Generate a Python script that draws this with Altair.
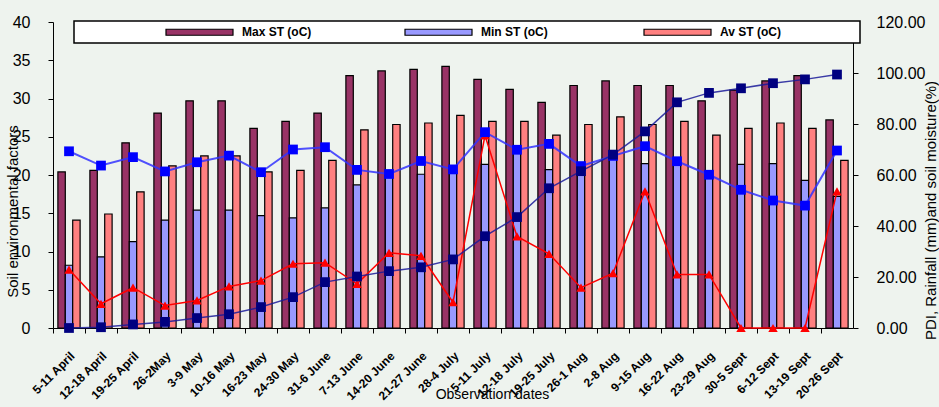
import altair as alt
import pandas as pd

# Observation weeks
dates = ["5-11 April", "12-18 April", "19-25 April", "26-2May", "3-9 May",
         "10-16 May", "16-23 May", "24-30 May", "31-6 June", "7-13 June",
         "14-20 June", "21-27 June", "28-4 July", "5-11 July", "12-18 July",
         "19-25 July", "26-1 Aug", "2-8 Aug", "9-15 Aug", "16-22 Aug",
         "23-29 Aug", "30-5 Sept", "6-12 Sept", "13-19 Sept", "20-26 Sept"]

# Soil temperatures (oC), left axis
max_st = [20.4, 20.6, 24.2, 28.1, 29.7, 29.7, 26.1, 27.0, 28.1, 33.0,
          33.6, 33.8, 34.2, 32.5, 31.2, 29.5, 31.7, 32.3, 31.7, 31.7,
          29.7, 31.1, 32.3, 33.0, 27.2]
min_st = [8.2, 9.3, 11.3, 14.1, 15.4, 15.4, 14.7, 14.4, 15.7, 18.7,
          20.0, 20.1, 21.0, 21.4, 23.0, 20.7, 20.8, 22.5, 21.5, 21.5,
          20.0, 21.4, 21.5, 19.3, 17.2]
av_st = [14.1, 14.9, 17.8, 21.2, 22.5, 22.5, 20.4, 20.6, 21.9, 25.9,
         26.6, 26.8, 27.8, 27.0, 27.0, 25.2, 26.6, 27.6, 26.6, 27.0,
         25.2, 26.1, 26.8, 26.1, 21.9]

# PDI, rainfall (mm) and soil moisture (%), right axis
pdi = [0.0, 0.3, 1.4, 2.4, 3.9, 5.4, 8.2, 12.1, 18.0, 20.2,
       22.3, 23.8, 26.9, 36.0, 43.5, 54.8, 61.5, 68.0, 77.1, 88.5,
       92.2, 94.0, 96.0, 97.5, 99.4]
rainfall = [22.9, 9.5, 15.8, 8.8, 10.8, 16.3, 18.6, 25.2, 25.6, 17.3,
            29.5, 28.3, 10.1, 75.5, 35.9, 29.1, 15.8, 21.5, 53.6, 21.0,
            21.0, 0.0, 0.0, 0.0, 53.6]
soil_moisture = [69.3, 63.7, 67.0, 61.4, 65.0, 67.6, 61.1, 70.0, 70.9, 62.0,
                 60.4, 65.5, 62.2, 76.8, 69.9, 72.2, 63.5, 67.5, 71.3, 65.4,
                 60.1, 54.2, 50.0, 48.0, 69.6]

series_names = ["Max ST (oC)", "Min ST (oC)", "Av ST (oC)"]
series_colors = ["#993366", "#9999FF", "#FF8080"]

FONT = "Liberation Sans"

bars_df = pd.DataFrame({
    "date": dates * 3,
    "series": [series_names[0]] * len(dates) + [series_names[1]] * len(dates)
              + [series_names[2]] * len(dates),
    "value": max_st + min_st + av_st,
})
lines_df = pd.DataFrame({
    "date": dates,
    "pdi": pdi,
    "rainfall": rainfall,
    "moisture": soil_moisture,
})

x_enc = alt.X(
    "date:N", sort=dates,
    scale=alt.Scale(paddingInner=0, paddingOuter=0),
    axis=alt.Axis(
        title="Observation dates", titleFontSize=14, titleFontWeight="normal",
        titleX=439, titleY=66, titleBaseline="middle", titleColor="black",
        labelAngle=315, labelFontWeight="bold", labelFontSize=12,
        labelColor="black", labelPadding=17, labelLimit=200,
        bandPosition=0, tickSize=5, tickColor="black", domainColor="black",
        grid=False,
    ),
)

# legend frame across the top of the plot
frame = alt.Chart(pd.DataFrame({"frame": [0]})).mark_rect(
    fill="white", stroke="black", strokeWidth=1.5
).encode(x=alt.value(21), x2=alt.value(807), y=alt.value(-1), y2=alt.value(21))

bars = alt.Chart(bars_df).mark_bar(stroke="black", strokeWidth=1.2).encode(
    x=x_enc,
    xOffset=alt.XOffset("series:N", sort=series_names,
                        scale=alt.Scale(domain=series_names, paddingOuter=0.66,
                                        paddingInner=0)),
    y=alt.Y("value:Q", scale=alt.Scale(domain=[0, 40]),
            axis=alt.Axis(
                values=list(range(0, 41, 5)), title="Soil environmental factors",
                titleFontSize=15, titleFontWeight="normal", titleColor="black",
                titleX=-33, titleY=189, titleAngle=270,
                labelFontSize=16, labelColor="black", labelPadding=18,
                tickSize=5, tickColor="black", domainColor="black", grid=False,
            )),
    color=alt.Color(
        "series:N", sort=series_names,
        scale=alt.Scale(domain=series_names, range=series_colors),
        legend=alt.Legend(
            title=None, orient="none", direction="horizontal", columns=3,
            legendX=112, legendY=-24.5, padding=0,
            symbolType="M-1,-0.09L1,-0.09L1,0.09L-1,0.09Z", symbolSize=4489,
            symbolStrokeColor="black", symbolStrokeWidth=1.2,
            labelFontSize=12, labelFontWeight="bold", labelColor="black",
            labelOffset=8, columnPadding=90, gridAlign="all",
        ),
    ),
)

right_axis = alt.Axis(
    orient="right", values=list(range(0, 121, 20)), format=".2f",
    title="PDI, Rainfall (mm)and soil moisture(%)", titleFontSize=15,
    titleFontWeight="normal", titleColor="black", titleAngle=270,
    titleX=77, titleY=188, titleBaseline="middle", titleAlign="center",
    labelFontSize=16, labelColor="black", labelPadding=18,
    tickSize=5, tickColor="black", domainColor="black", grid=False,
)
y_scale = alt.Scale(domain=[0, 120])

rain_line = alt.Chart(lines_df).mark_line(
    color="#FF0000", strokeWidth=1.5,
    point=alt.OverlayMarkDef(shape="triangle-up", size=90, filled=True,
                             color="#FF0000"),
).encode(x=alt.X("date:N", sort=dates),
         y=alt.Y("rainfall:Q", scale=y_scale, axis=right_axis))

moist_line = alt.Chart(lines_df).mark_line(
    color="#3333FF", strokeWidth=2, opacity=0.85,
    point=alt.OverlayMarkDef(shape="square", size=95, filled=True,
                             color="#0000FF", opacity=1),
).encode(x=alt.X("date:N", sort=dates),
         y=alt.Y("moisture:Q", scale=y_scale, axis=right_axis))

pdi_line = alt.Chart(lines_df).mark_line(
    color="#1a1a99", strokeWidth=1.5, opacity=0.85,
    point=alt.OverlayMarkDef(shape="square", size=95, filled=True,
                             color="#000080", opacity=1),
).encode(x=alt.X("date:N", sort=dates),
         y=alt.Y("pdi:Q", scale=y_scale, axis=right_axis))

lines = alt.layer(rain_line, moist_line, pdi_line)

chart = alt.layer(frame, bars, lines).resolve_scale(
    y="independent"
).properties(
    width=800, height=306,
    autosize=alt.AutoSizeParams(type="none"),
    padding={"left": 53, "top": 22, "right": 86, "bottom": 79},
    background="#eef3ee",
).configure(
    font=FONT,
).configure_view(stroke=None)

chart.save("out.html", embed_options={"renderer": "svg", "actions": False})
